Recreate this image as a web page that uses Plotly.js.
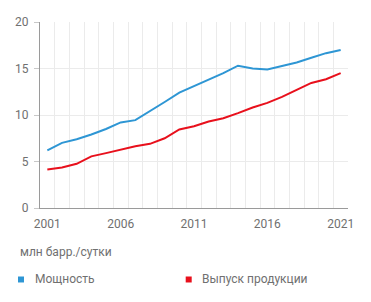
<!DOCTYPE html>
<html>
<head>
<meta charset="utf-8">
<script src="https://cdn.plot.ly/plotly-3.0.1.min.js"></script>
<style>
html,body{margin:0;padding:0;background:#fff;}
#chart{width:371px;height:302px;}
</style>
</head>
<body>
<div id="chart"></div>
<script>
var years = [2001,2002,2003,2004,2005,2006,2007,2008,2009,2010,2011,2012,2013,2014,2015,2016,2017,2018,2019,2020,2021];
var capacity = [6.2,7.0,7.4,7.9,8.5,9.2,9.45,10.4,11.4,12.4,13.1,13.75,14.5,15.3,15.0,14.9,15.25,15.65,16.15,16.65,17.0];
var output = [4.15,4.35,4.75,5.55,5.9,6.3,6.65,6.9,7.5,8.45,8.8,9.3,9.65,10.2,10.8,11.3,11.95,12.7,13.45,13.85,14.5];
var seriesNames = ["Мощность","Выпуск продукции"];
var seriesColors = ["#2e96d4","#e8101c"];
var tickYears = [2001,2006,2011,2016,2021];
var yTicks = [0,5,10,15,20];
var unitLabel = "млн барр./сутки";

var font = {family:"Roboto, 'Open Sans', sans-serif", size:12, color:"#707070"};

var traces = [
  {x:years, y:capacity, type:"scatter", mode:"lines", name:seriesNames[0],
   line:{color:seriesColors[0], width:2}, showlegend:false, hoverinfo:"skip"},
  {x:years, y:output, type:"scatter", mode:"lines", name:seriesNames[1],
   line:{color:seriesColors[1], width:2}, showlegend:false, hoverinfo:"skip"}
];

var legendX = [18, 185.7];
var shapes = [], annotations = [];
for (var i=0;i<seriesNames.length;i++){
  shapes.push({type:"rect", xref:"paper", yref:"paper",
    x0:(legendX[i]-40)/308, x1:(legendX[i]+6-40)/308,
    y0:(208.5-283.3)/186.8, y1:(208.5-277.3)/186.8,
    fillcolor:seriesColors[i], line:{width:0}});
  annotations.push({xref:"paper", yref:"paper", x:(legendX[i]+14.5-40)/308, y:(208.5-280.3)/186.8,
    xanchor:"left", yanchor:"middle", text:seriesNames[i], showarrow:false, font:font});
}
annotations.push({xref:"paper", yref:"paper", x:(17.5-40)/308, y:(208.5-252.7)/186.8,
  xanchor:"left", yanchor:"middle", text:unitLabel, showarrow:false, font:font});

var layout = {
  width:371, height:302,
  margin:{l:40, r:23, t:22, b:93.5},
  paper_bgcolor:"#fff", plot_bgcolor:"#fff",
  font:font,
  showlegend:false,
  xaxis:{
    range:[2000.5, 2021.5],
    tickvals:tickYears, ticktext:tickYears.map(String),
    showgrid:false, zeroline:false,
    showline:true, linecolor:"#9a9a9a", linewidth:1,
    ticks:"", tickfont:font, ticklabelstandoff:5,
    minor:{tick0:2000.5, dtick:1, showgrid:true, gridcolor:"#ebebeb", gridwidth:1, ticks:""},
    fixedrange:true
  },
  yaxis:{
    range:[0,20], tickvals:yTicks,
    showgrid:true, gridcolor:"#ebebeb", gridwidth:1,
    zeroline:false, showline:true, linecolor:"#9a9a9a", linewidth:1,
    ticks:"outside", ticklen:5, tickcolor:"#c8c8c8", tickfont:font, ticklabelstandoff:3,
    fixedrange:true
  },
  shapes:shapes,
  annotations:annotations
};

Plotly.newPlot("chart", traces, layout, {displayModeBar:false, staticPlot:true});
</script>
</body>
</html>
